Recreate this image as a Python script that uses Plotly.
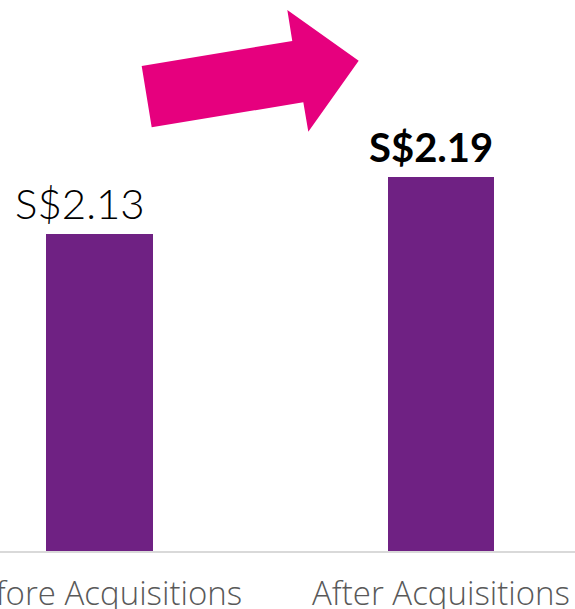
import plotly.graph_objects as go

categories = ["Before Acquisitions", "After Acquisitions"]
values = [2.13, 2.19]
value_labels = ["S$2.13", "S$2.19"]
label_bold = [False, True]

W, H = 575, 609
plot_bottom_px = 551  # axis line position in pixels from top

fig = go.Figure()
fig.add_trace(go.Bar(
    x=categories, y=values, width=0.313,
    marker=dict(color="#6f2183", line=dict(width=0)),
    hoverinfo="skip",
))

xshifts = [-20, -10]
for c, v, t, b, xs in zip(categories, values, value_labels, label_bold, xshifts):
    fig.add_annotation(
        x=c, y=v, text=t, showarrow=False,
        xanchor="center", yanchor="bottom", xshift=xs, yshift=4,
        font=dict(family="Lato, sans-serif", size=40 if b else 42,
                  weight=700 if b else 300, color="#000000"),
    )

# decorative block arrow, in paper coordinates
pts_px = [(141.7, 66), (292.3, 41), (287.3, 10), (358.7, 60.7),
          (308.3, 131.7), (303.3, 102.3), (151.7, 127.3)]
def to_paper(p):
    return (p[0] / W, (plot_bottom_px - p[1]) / plot_bottom_px)
path = "M " + " L ".join(f"{to_paper(p)[0]:.4f},{to_paper(p)[1]:.4f}" for p in pts_px) + " Z"
fig.add_shape(type="path", path=path, xref="paper", yref="paper",
              fillcolor="#e6007e", line=dict(width=0), layer="above")

fig.update_layout(
    template="none",
    width=W, height=H,
    margin=dict(l=0, r=0, t=0, b=H - plot_bottom_px),
    paper_bgcolor="white", plot_bgcolor="white",
    showlegend=False,
    bargap=0,
    xaxis=dict(
        range=[-0.2914, 1.3924], showgrid=False, zeroline=False,
        showline=True, linecolor="#d9d9d9", linewidth=2,
        ticks="outside", ticklen=12, tickcolor="rgba(0,0,0,0)",
        tickfont=dict(family="Open Sans, sans-serif", size=33, weight=300, color="#595959"),
        automargin=False, fixedrange=True,
    ),
    yaxis=dict(
        range=[1.796, 2.376], showgrid=False, zeroline=False,
        showline=False, showticklabels=False, automargin=False,
        fixedrange=True,
    ),
)

fig.write_html("out.html", config={"displayModeBar": False},
               post_script="document.body.style.margin='0';document.body.style.overflow='hidden';")
